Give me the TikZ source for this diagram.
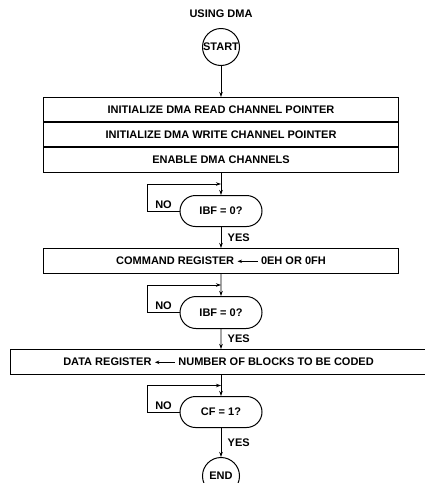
\documentclass[tikz,border=0pt]{standalone}
\usepackage{fontspec}
\setmainfont{Liberation Sans}
\usetikzlibrary{arrows.meta,positioning,shapes.misc,calc}

% small inline arrow used inside the register boxes
\newcommand{\regarrow}{\tikz[baseline=-0.6ex]\draw[line width=0.8pt,{Stealth[length=4.5pt,width=3.5pt]}-] (0,0) -- (20pt,0);}

\begin{document}
\begin{tikzpicture}[
  x=1pt, y=1pt,
  font=\fontsize{11}{13}\selectfont\bfseries,
  >={Stealth[length=5pt,width=3.5pt]},
  term/.style={draw, circle, line width=1pt, minimum size=37pt, inner sep=0pt},
  procbox/.style={draw, line width=1pt, minimum width=355pt, minimum height=24pt, inner sep=0pt},
  test/.style={draw, rounded rectangle, line width=1pt, minimum width=82pt,
               minimum height=31pt, inner sep=0pt},
  flow/.style={->, line width=0.8pt},
]
\useasboundingbox (0,0) rectangle (425,-483);
\node (title) at (221,-14) {USING DMA};
\node[term] (start) at (221,-47) {START};
\node[procbox, below=31pt of start] (rd) {INITIALIZE DMA READ CHANNEL POINTER};
\node[procbox, below=0pt of rd] (wr) {INITIALIZE DMA WRITE CHANNEL POINTER};
\node[procbox, below=0pt of wr, minimum height=25pt] (en) {ENABLE DMA CHANNELS};
\node[test, below=22pt of en] (ibf1) {IBF = 0?};
\node[procbox, below=21pt of ibf1, minimum height=25pt] (cmd) {COMMAND REGISTER \regarrow\ 0EH OR 0FH};
\node[test, below=22pt of cmd, minimum height=32pt] (ibf2) {IBF = 0?};
\node[procbox, below=20pt of ibf2, minimum width=417pt, minimum height=25pt, xshift=-2.5pt] (dat)
  {DATA REGISTER \regarrow\ NUMBER OF BLOCKS TO BE CODED};
\node[test, below=21pt of dat, xshift=2.5pt] (cf) {CF = 1?};
\node[term, below=29pt of cf] (end) {END};
% main flow
\coordinate (j1) at ($(en.south)!0.5!(ibf1.north)$);
\coordinate (j2) at ($(cmd.south)!0.5!(ibf2.north)$);
\coordinate (j3) at ($(dat.south -| cf)!0.5!(cf.north)$);
\draw[flow] (start) -- (rd);
\draw[flow] (en) -- (ibf1);
\draw[flow] (ibf1) -- node[right=3pt] {YES} (cmd);
\draw[flow] (cmd) -- (ibf2);
\draw[flow] (ibf2) -- node[right=3pt] {YES} (dat.north -| ibf2);
\draw[flow] (dat.south -| cf) -- (cf);
\draw[flow] (cf) -- node[right=3pt] {YES} (end);
% wait loops
\draw[flow] (ibf1.west) -- node[above, inner sep=2pt] {NO} ++(-32,0) |- (j1);
\draw[flow] (ibf2.west) -- node[above, inner sep=2pt] {NO} ++(-32,0) |- (j2);
\draw[flow] (cf.west) -- node[above, inner sep=2pt] {NO} ++(-32,0) |- (j3);
\end{tikzpicture}
\end{document}
